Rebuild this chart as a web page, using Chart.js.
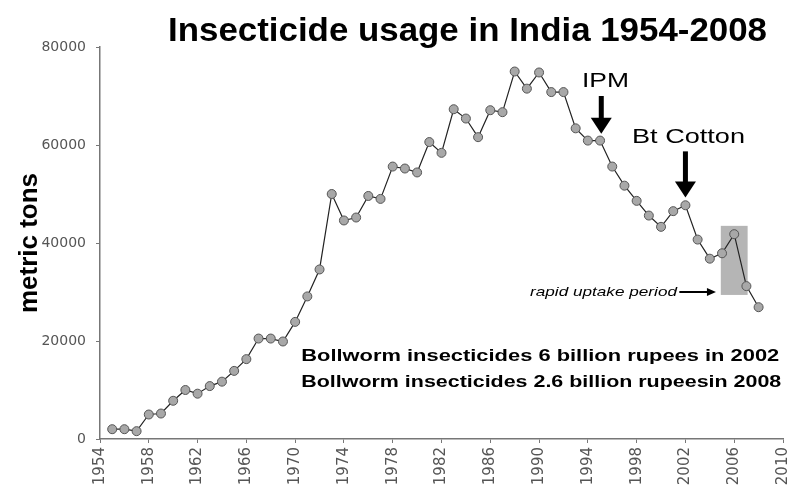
<!DOCTYPE html>
<html>
<head>
<meta charset="utf-8">
<script src="https://cdn.jsdelivr.net/npm/chart.js@4.4.0/dist/chart.umd.min.js"></script>
<style>
  html, body { margin: 0; padding: 0; background: #fff; }
  #wrap { width: 795px; height: 486px; }
</style>
</head>
<body>
<div id="wrap"><canvas id="c"></canvas></div>
<script>
// insecticide use, metric tons, one point per year
const years = []
for (let y = 1955; y <= 2008; y++) years.push(y)
const tons = [
  2000, 2000, 1600, 5000, 5200, 7800, 10000, 9250, 10800, 11700,
  13900, 16300, 20500, 20500, 19900, 23900, 29100, 34600, 50000, 44600,
  45200, 49600, 49000, 55600, 55200, 54400, 60600, 58400, 67300, 65400,
  61600, 67100, 66700, 75000, 71500, 74800, 70800, 70800, 63400, 60900,
  60900, 55600, 51700, 48600, 45600, 43300, 46500, 47700, 40700, 36800,
  37900, 41800, 31200, 26900
]
const yTicks = [0, 20000, 40000, 60000, 80000]
const xTicks = [1954, 1958, 1962, 1966, 1970, 1974, 1978, 1982, 1986, 1990, 1994, 1998, 2002, 2006, 2010]

const points = years.map((y, i) => ({x: y, y: tons[i]}))

const SANS = '"Liberation Sans", Arial, sans-serif'

// text in the picture is a bit wider than plain Arial, so squeeze/stretch it to a width
function fitText(ctx, text, x, y, w) {
    let m = ctx.measureText(text).width
    ctx.save()
    ctx.translate(x, y)
    ctx.scale(w / m, 1)
    ctx.fillText(text, 0, 0)
    ctx.restore()
}

function arrow(ctx, x1, y1, x2, y2, headLen, headW, width) {
    let a = Math.atan2(y2 - y1, x2 - x1)
    let bx = x2 - Math.cos(a) * headLen, by = y2 - Math.sin(a) * headLen
    ctx.beginPath()
    ctx.lineWidth = width
    ctx.moveTo(x1, y1)
    ctx.lineTo(bx + Math.cos(a) * 2, by + Math.sin(a) * 2)
    ctx.stroke()
    ctx.beginPath()
    ctx.moveTo(x2, y2)
    ctx.lineTo(bx - Math.sin(a) * headW / 2, by + Math.cos(a) * headW / 2)
    ctx.lineTo(bx + Math.sin(a) * headW / 2, by - Math.cos(a) * headW / 2)
    ctx.closePath()
    ctx.fill()
}

const notes = {
    id: 'notes',
    beforeDatasetsDraw(chart) {
        const ctx = chart.ctx, xs = chart.scales.x, ys = chart.scales.y
        let x1 = xs.getPixelForValue(2004.9), x2 = xs.getPixelForValue(2007.1)
        let y1 = ys.getPixelForValue(43500), y2 = ys.getPixelForValue(29400)
        ctx.save()
        ctx.fillStyle = '#b5b5b5'
        ctx.fillRect(x1, y1, x2 - x1, y2 - y1)
        ctx.restore()
    },
    afterDraw(chart) {
        const ctx = chart.ctx, xs = chart.scales.x, ys = chart.scales.y
        ctx.save()
        ctx.fillStyle = '#000'
        ctx.strokeStyle = '#000'
        ctx.textAlign = 'left'
        ctx.textBaseline = 'alphabetic'

        // title
        ctx.font = 'bold 33px ' + SANS
        fitText(ctx, 'Insecticide usage in India 1954-2008', 168, 41, 599)

        // IPM
        ctx.font = '21px ' + SANS
        fitText(ctx, 'IPM', 582, 87, 47)
        let ax = xs.getPixelForValue(1995.1)
        arrow(ctx, ax, ys.getPixelForValue(70000), ax, ys.getPixelForValue(62300), 16, 21, 5)

        // Bt cotton
        fitText(ctx, 'Bt Cotton', 632, 143, 113)
        ax = xs.getPixelForValue(2002)
        arrow(ctx, ax, ys.getPixelForValue(58700), ax, ys.getPixelForValue(49300), 16, 21, 5)

        // rapid uptake
        ctx.font = 'italic 13px ' + SANS
        fitText(ctx, 'rapid uptake period', 530, 296, 147)
        let ay = ys.getPixelForValue(30000)
        arrow(ctx, xs.getPixelForValue(2001.5), ay, xs.getPixelForValue(2004.5), ay, 9, 8, 2)

        // bollworm notes
        ctx.font = 'bold 17px ' + SANS
        let lx = xs.getPixelForValue(1970.5)
        fitText(ctx, 'Bollworm insecticides 6 billion rupees in 2002', lx, ys.getPixelForValue(16000), 478)
        fitText(ctx, 'Bollworm insecticides 2.6 billion rupeesin 2008', lx, ys.getPixelForValue(10700), 480)
        ctx.restore()
    }
}

const data = {
    datasets: [{
        data: points,
        borderColor: '#222',
        borderWidth: 1.2,
        pointRadius: 4.5,
        pointBackgroundColor: '#a8a8a8',
        pointBorderColor: '#555',
        pointBorderWidth: 1,
        tension: 0
    }]
}

const tickFont = {family: '"DejaVu Sans", sans-serif', size: 15}

const config = {
    type: 'line',
    data: data,
    options: {
        responsive: true,
        maintainAspectRatio: false,
        animation: false,
        layout: {padding: {top: 47, right: 12, left: 0, bottom: 0}},
        plugins: {legend: {display: false}, tooltip: {enabled: false}},
        scales: {
            x: {
                type: 'linear',
                min: 1954, max: 2010,
                afterFit(s) { s.height = 47; s.paddingRight = 0; s.paddingLeft = 0 },
                afterBuildTicks(s) { s.ticks = xTicks.map(v => ({value: v})) },
                grid: {drawOnChartArea: false, tickLength: 4, color: '#777'},
                border: {color: '#777', width: 1.5},
                ticks: {
                    color: '#555', font: tickFont,
                    minRotation: 90, maxRotation: 90, padding: 4,
                    callback: v => String(v)
                }
            },
            y: {
                min: 0, max: 80000,
                afterFit(s) { s.width = 100 },
                afterBuildTicks(s) { s.ticks = yTicks.map(v => ({value: v})) },
                grid: {drawOnChartArea: false, tickLength: 4, color: '#777'},
                border: {color: '#777', width: 1.5},
                ticks: {color: '#555', font: {family: tickFont.family, size: 14}, padding: 10, callback: v => String(v)},
                title: {
                    display: true, text: 'metric tons', color: '#000',
                    font: {family: SANS, size: 26, weight: 'bold'},
                    padding: {top: 14, bottom: 0}
                }
            }
        }
    },
    plugins: [notes]
}

let ctx = document.getElementById('c').getContext('2d')
new Chart(ctx, config)
</script>
</body>
</html>
